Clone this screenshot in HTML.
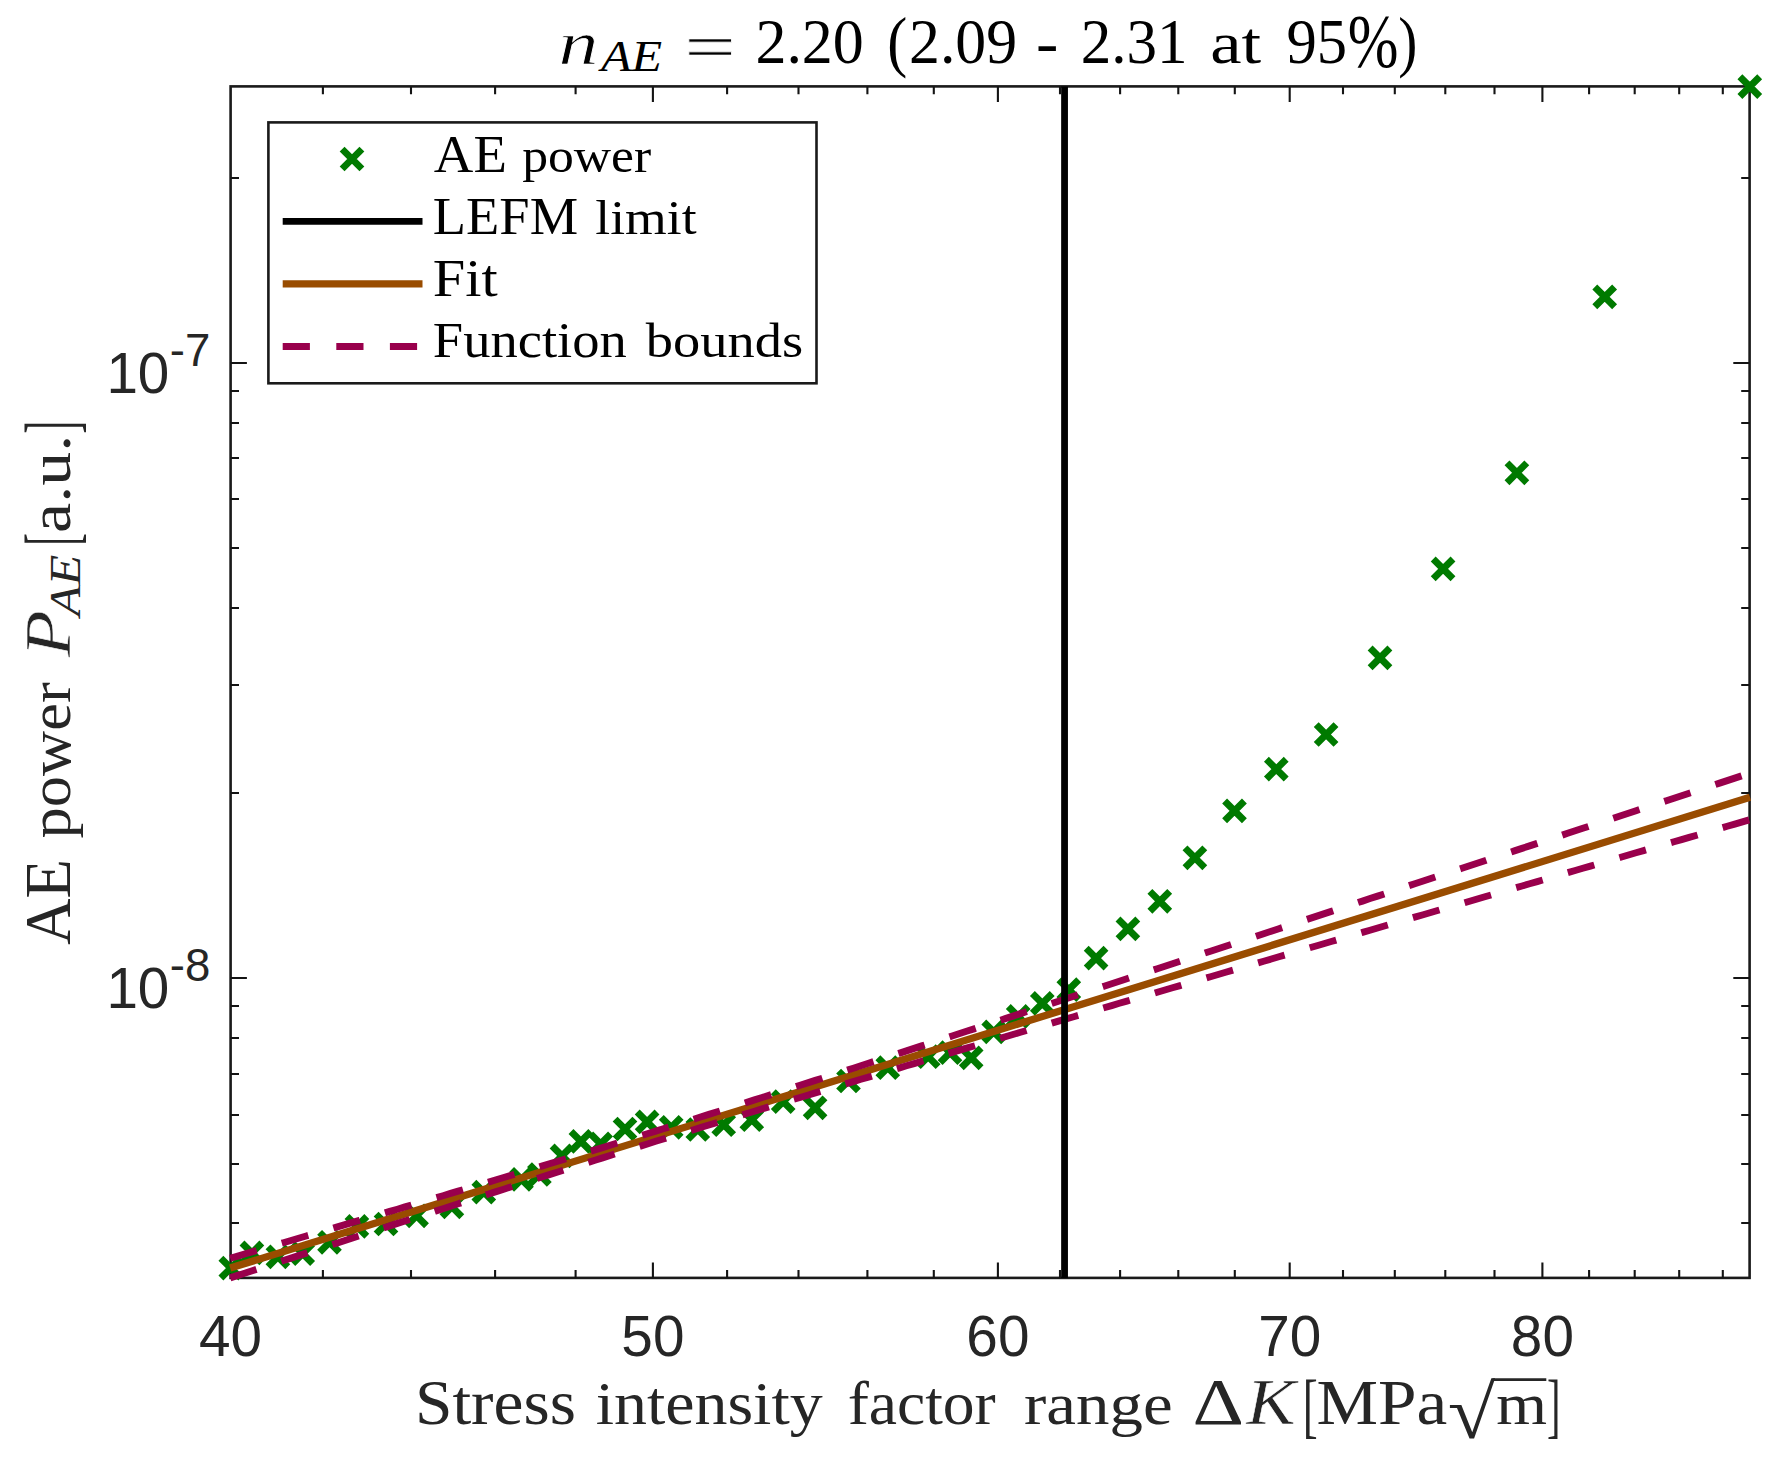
<!DOCTYPE html>
<html><head><meta charset="utf-8"><title>AE power vs stress intensity factor range</title>
<style>html,body{margin:0;padding:0;background:#fff}svg{display:block}</style></head>
<body>
<svg width="1782" height="1466" viewBox="0 0 1782 1466">
<rect width="1782" height="1466" fill="#fff"/>
<rect x="230.6" y="86.4" width="1519.0" height="1191.5" fill="none" stroke="#1a1a1a" stroke-width="2.6"/>
<g stroke="#141414" stroke-width="2.1" fill="none" stroke-linecap="butt">
<path d="M322.9 1277.9v-7.9M322.9 86.4v7.9M411.0 1277.9v-7.9M411.0 86.4v7.9M495.1 1277.9v-7.9M495.1 86.4v7.9M575.6 1277.9v-7.9M575.6 86.4v7.9M652.9 1277.9v-15.5M652.9 86.4v15.5M727.1 1277.9v-7.9M727.1 86.4v7.9M798.5 1277.9v-7.9M798.5 86.4v7.9M867.4 1277.9v-7.9M867.4 86.4v7.9M933.8 1277.9v-7.9M933.8 86.4v7.9M997.9 1277.9v-15.5M997.9 86.4v15.5M1060.0 1277.9v-7.9M1060.0 86.4v7.9M1120.1 1277.9v-7.9M1120.1 86.4v7.9M1178.3 1277.9v-7.9M1178.3 86.4v7.9M1234.8 1277.9v-7.9M1234.8 86.4v7.9M1289.7 1277.9v-15.5M1289.7 86.4v15.5M1343.0 1277.9v-7.9M1343.0 86.4v7.9M1394.8 1277.9v-7.9M1394.8 86.4v7.9M1445.3 1277.9v-7.9M1445.3 86.4v7.9M1494.5 1277.9v-7.9M1494.5 86.4v7.9M1542.4 1277.9v-15.5M1542.4 86.4v15.5M1589.1 1277.9v-7.9M1589.1 86.4v7.9M1634.7 1277.9v-7.9M1634.7 86.4v7.9M1679.2 1277.9v-7.9M1679.2 86.4v7.9M1722.8 1277.9v-7.9M1722.8 86.4v7.9M230.6 1223.0h8.4M1749.6 1223.0h-8.4M230.6 1164.0h8.4M1749.6 1164.0h-8.4M230.6 1115.0h8.4M1749.6 1115.0h-8.4M230.6 1074.0h8.4M1749.6 1074.0h-8.4M230.6 1038.0h8.4M1749.6 1038.0h-8.4M230.6 1006.0h8.4M1749.6 1006.0h-8.4M230.6 978.0h16.3M1749.6 978.0h-16.3M230.6 793.0h8.4M1749.6 793.0h-8.4M230.6 685.0h8.4M1749.6 685.0h-8.4M230.6 608.0h8.4M1749.6 608.0h-8.4M230.6 548.0h8.4M1749.6 548.0h-8.4M230.6 499.0h8.4M1749.6 499.0h-8.4M230.6 458.0h8.4M1749.6 458.0h-8.4M230.6 423.0h8.4M1749.6 423.0h-8.4M230.6 391.0h8.4M1749.6 391.0h-8.4M230.6 363.0h16.3M1749.6 363.0h-16.3M230.6 178.0h8.4M1749.6 178.0h-8.4"/>
</g>
<g font-family="'Liberation Sans', sans-serif" font-size="56.7" fill="#262626" text-anchor="middle">
<text x="230.6" y="1356">40</text>
<text x="652.9" y="1356">50</text>
<text x="997.9" y="1356">60</text>
<text x="1289.7" y="1356">70</text>
<text x="1542.4" y="1356">80</text>
</g>
<g font-family="'Liberation Sans', sans-serif" fill="#262626">
<text x="106.4" y="392.9" font-size="56.6">10</text><text x="169.8" y="366.0" font-size="45.6">-7</text>
<text x="106.4" y="1008.3" font-size="56.6">10</text><text x="169.8" y="981.4" font-size="45.6">-8</text>
</g>
<path d="M220.9 1258.2l19.8 19.8M220.9 1278.0l19.8 -19.8M242.0 1243.0l19.8 19.8M242.0 1262.8l19.8 -19.8M268.0 1246.9l19.8 19.8M268.0 1266.7l19.8 -19.8M292.8 1243.7l19.8 19.8M292.8 1263.5l19.8 -19.8M319.6 1232.4l19.8 19.8M319.6 1252.2l19.8 -19.8M347.0 1216.5l19.8 19.8M347.0 1236.3l19.8 -19.8M376.1 1214.1l19.8 19.8M376.1 1233.9l19.8 -19.8M406.7 1205.9l19.8 19.8M406.7 1225.7l19.8 -19.8M442.0 1196.9l19.8 19.8M442.0 1216.7l19.8 -19.8M473.9 1182.2l19.8 19.8M473.9 1202.0l19.8 -19.8M511.6 1169.5l19.8 19.8M511.6 1189.3l19.8 -19.8M529.5 1164.6l19.8 19.8M529.5 1184.4l19.8 -19.8M552.1 1146.0l19.8 19.8M552.1 1165.8l19.8 -19.8M571.0 1131.5l19.8 19.8M571.0 1151.3l19.8 -19.8M590.7 1134.0l19.8 19.8M590.7 1153.8l19.8 -19.8M615.1 1119.1l19.8 19.8M615.1 1138.9l19.8 -19.8M637.2 1112.0l19.8 19.8M637.2 1131.8l19.8 -19.8M661.3 1117.4l19.8 19.8M661.3 1137.2l19.8 -19.8M687.9 1119.6l19.8 19.8M687.9 1139.4l19.8 -19.8M713.8 1114.8l19.8 19.8M713.8 1134.6l19.8 -19.8M741.9 1109.8l19.8 19.8M741.9 1129.6l19.8 -19.8M773.3 1091.7l19.8 19.8M773.3 1111.5l19.8 -19.8M805.2 1097.9l19.8 19.8M805.2 1117.7l19.8 -19.8M838.6 1071.1l19.8 19.8M838.6 1090.9l19.8 -19.8M877.9 1057.8l19.8 19.8M877.9 1077.6l19.8 -19.8M918.3 1046.8l19.8 19.8M918.3 1066.6l19.8 -19.8M940.1 1042.8l19.8 19.8M940.1 1062.6l19.8 -19.8M961.3 1048.0l19.8 19.8M961.3 1067.8l19.8 -19.8M983.8 1022.0l19.8 19.8M983.8 1041.8l19.8 -19.8M1008.3 1006.5l19.8 19.8M1008.3 1026.3l19.8 -19.8M1032.4 993.5l19.8 19.8M1032.4 1013.3l19.8 -19.8M1058.9 979.7l19.8 19.8M1058.9 999.5l19.8 -19.8M1086.2 948.2l19.8 19.8M1086.2 968.0l19.8 -19.8M1118.0 919.0l19.8 19.8M1118.0 938.8l19.8 -19.8M1149.9 891.4l19.8 19.8M1149.9 911.2l19.8 -19.8M1185.0 847.9l19.8 19.8M1185.0 867.7l19.8 -19.8M1224.6 801.0l19.8 19.8M1224.6 820.8l19.8 -19.8M1266.4 759.2l19.8 19.8M1266.4 779.0l19.8 -19.8M1316.2 724.6l19.8 19.8M1316.2 744.4l19.8 -19.8M1370.1 648.0l19.8 19.8M1370.1 667.8l19.8 -19.8M1433.2 559.0l19.8 19.8M1433.2 578.8l19.8 -19.8M1507.0 462.9l19.8 19.8M1507.0 482.7l19.8 -19.8M1594.8 287.0l19.8 19.8M1594.8 306.8l19.8 -19.8M1739.9 76.7l19.8 19.8M1739.9 96.5l19.8 -19.8" stroke="#007A00" stroke-width="6.9" fill="none"/>
<line x1="230.2" y1="1268.1" x2="1750.0" y2="797.2" stroke="#994C00" stroke-width="7.3"/>
<g stroke="#99004C" stroke-width="6.9" fill="none" stroke-dasharray="27.6 26.16">
<polyline points="230.2 1258.3 237.8 1256.1 245.4 1253.8 253.0 1251.6 260.6 1249.4 268.2 1247.2 275.8 1244.9 283.4 1242.7 291.0 1240.5 298.6 1238.2 306.2 1236.0 313.8 1233.8 321.4 1231.6 329.0 1229.3 336.6 1227.1 344.2 1224.9 351.8 1222.6 359.4 1220.4 367.0 1218.1 374.6 1215.9 382.2 1213.7 389.8 1211.4 397.4 1209.2 405.0 1206.9 412.6 1204.7 420.2 1202.4 427.8 1200.2 435.4 1197.9 443.0 1195.7 450.6 1193.4 458.2 1191.1 465.8 1188.9 473.4 1186.6 481.0 1184.3 488.6 1182.1 496.2 1179.8 503.8 1177.5 511.4 1175.2 519.0 1173.0 526.6 1170.7 534.2 1168.4 541.8 1166.1 549.4 1163.8 557.0 1161.5 564.6 1159.2 572.2 1156.9 579.8 1154.5 587.4 1152.2 595.0 1149.9 602.6 1147.6 610.1 1145.2 617.7 1142.9 625.3 1140.6 632.9 1138.2 640.5 1135.9 648.1 1133.5 655.7 1131.1 663.3 1128.8 670.9 1126.4 678.5 1124.0 686.1 1121.6 693.7 1119.2 701.3 1116.8 708.9 1114.4 716.5 1112.0 724.1 1109.6 731.7 1107.2 739.3 1104.8 746.9 1102.4 754.5 1099.9 762.1 1097.5 769.7 1095.1 777.3 1092.7 784.9 1090.2 792.5 1087.8 800.1 1085.3 807.7 1082.9 815.3 1080.4 822.9 1078.0 830.5 1075.5 838.1 1073.1 845.7 1070.6 853.3 1068.2 860.9 1065.7 868.5 1063.2 876.1 1060.8 883.7 1058.3 891.3 1055.8 898.9 1053.4 906.5 1050.9 914.1 1048.4 921.7 1045.9 929.3 1043.5 936.9 1041.0 944.5 1038.5 952.1 1036.0 959.7 1033.5 967.3 1031.0 974.9 1028.6 982.5 1026.1 990.1 1023.6 997.7 1021.1 1005.3 1018.6 1012.9 1016.1 1020.5 1013.6 1028.1 1011.1 1035.7 1008.7 1043.3 1006.2 1050.9 1003.7 1058.5 1001.2 1066.1 998.7 1073.7 996.2 1081.3 993.7 1088.9 991.2 1096.5 988.7 1104.1 986.2 1111.7 983.7 1119.3 981.2 1126.9 978.7 1134.5 976.2 1142.1 973.7 1149.7 971.2 1157.3 968.7 1164.9 966.2 1172.5 963.7 1180.1 961.2 1187.7 958.7 1195.3 956.2 1202.9 953.7 1210.5 951.2 1218.1 948.7 1225.7 946.2 1233.3 943.7 1240.9 941.2 1248.5 938.7 1256.1 936.2 1263.7 933.7 1271.3 931.2 1278.9 928.7 1286.5 926.2 1294.1 923.6 1301.7 921.1 1309.3 918.6 1316.9 916.1 1324.5 913.6 1332.1 911.1 1339.7 908.6 1347.3 906.1 1354.9 903.6 1362.5 901.1 1370.0 898.6 1377.6 896.1 1385.2 893.6 1392.8 891.1 1400.4 888.6 1408.0 886.0 1415.6 883.5 1423.2 881.0 1430.8 878.5 1438.4 876.0 1446.0 873.5 1453.6 871.0 1461.2 868.5 1468.8 866.0 1476.4 863.5 1484.0 861.0 1491.6 858.4 1499.2 855.9 1506.8 853.4 1514.4 850.9 1522.0 848.4 1529.6 845.9 1537.2 843.4 1544.8 840.9 1552.4 838.4 1560.0 835.9 1567.6 833.3 1575.2 830.8 1582.8 828.3 1590.4 825.8 1598.0 823.3 1605.6 820.8 1613.2 818.3 1620.8 815.8 1628.4 813.3 1636.0 810.7 1643.6 808.2 1651.2 805.7 1658.8 803.2 1666.4 800.7 1674.0 798.2 1681.6 795.7 1689.2 793.2 1696.8 790.7 1704.4 788.1 1712.0 785.6 1719.6 783.1 1727.2 780.6 1734.8 778.1 1742.4 775.6 1750.0 773.1"/>
<polyline points="230.2 1277.9 237.8 1275.4 245.4 1273.0 253.0 1270.5 260.6 1268.0 268.2 1265.5 275.8 1263.0 283.4 1260.5 291.0 1258.1 298.6 1255.6 306.2 1253.1 313.8 1250.6 321.4 1248.1 329.0 1245.7 336.6 1243.2 344.2 1240.7 351.8 1238.2 359.4 1235.8 367.0 1233.3 374.6 1230.8 382.2 1228.4 389.8 1225.9 397.4 1223.4 405.0 1221.0 412.6 1218.5 420.2 1216.0 427.8 1213.6 435.4 1211.1 443.0 1208.7 450.6 1206.2 458.2 1203.8 465.8 1201.3 473.4 1198.9 481.0 1196.5 488.6 1194.0 496.2 1191.6 503.8 1189.2 511.4 1186.7 519.0 1184.3 526.6 1181.9 534.2 1179.5 541.8 1177.0 549.4 1174.6 557.0 1172.2 564.6 1169.8 572.2 1167.4 579.8 1165.0 587.4 1162.7 595.0 1160.3 602.6 1157.9 610.1 1155.5 617.7 1153.1 625.3 1150.8 632.9 1148.4 640.5 1146.1 648.1 1143.7 655.7 1141.3 663.3 1139.0 670.9 1136.7 678.5 1134.3 686.1 1132.0 693.7 1129.7 701.3 1127.3 708.9 1125.0 716.5 1122.7 724.1 1120.4 731.7 1118.1 739.3 1115.8 746.9 1113.5 754.5 1111.2 762.1 1108.9 769.7 1106.6 777.3 1104.3 784.9 1102.0 792.5 1099.7 800.1 1097.5 807.7 1095.2 815.3 1092.9 822.9 1090.6 830.5 1088.4 838.1 1086.1 845.7 1083.9 853.3 1081.6 860.9 1079.3 868.5 1077.1 876.1 1074.8 883.7 1072.6 891.3 1070.3 898.9 1068.1 906.5 1065.8 914.1 1063.6 921.7 1061.3 929.3 1059.1 936.9 1056.9 944.5 1054.6 952.1 1052.4 959.7 1050.1 967.3 1047.9 974.9 1045.7 982.5 1043.4 990.1 1041.2 997.7 1039.0 1005.3 1036.7 1012.9 1034.5 1020.5 1032.3 1028.1 1030.0 1035.7 1027.8 1043.3 1025.6 1050.9 1023.4 1058.5 1021.1 1066.1 1018.9 1073.7 1016.7 1081.3 1014.5 1088.9 1012.2 1096.5 1010.0 1104.1 1007.8 1111.7 1005.6 1119.3 1003.3 1126.9 1001.1 1134.5 998.9 1142.1 996.7 1149.7 994.5 1157.3 992.2 1164.9 990.0 1172.5 987.8 1180.1 985.6 1187.7 983.4 1195.3 981.1 1202.9 978.9 1210.5 976.7 1218.1 974.5 1225.7 972.3 1233.3 970.1 1240.9 967.8 1248.5 965.6 1256.1 963.4 1263.7 961.2 1271.3 959.0 1278.9 956.8 1286.5 954.6 1294.1 952.3 1301.7 950.1 1309.3 947.9 1316.9 945.7 1324.5 943.5 1332.1 941.3 1339.7 939.1 1347.3 936.8 1354.9 934.6 1362.5 932.4 1370.0 930.2 1377.6 928.0 1385.2 925.8 1392.8 923.6 1400.4 921.4 1408.0 919.1 1415.6 916.9 1423.2 914.7 1430.8 912.5 1438.4 910.3 1446.0 908.1 1453.6 905.9 1461.2 903.7 1468.8 901.5 1476.4 899.2 1484.0 897.0 1491.6 894.8 1499.2 892.6 1506.8 890.4 1514.4 888.2 1522.0 886.0 1529.6 883.8 1537.2 881.6 1544.8 879.4 1552.4 877.1 1560.0 874.9 1567.6 872.7 1575.2 870.5 1582.8 868.3 1590.4 866.1 1598.0 863.9 1605.6 861.7 1613.2 859.5 1620.8 857.3 1628.4 855.0 1636.0 852.8 1643.6 850.6 1651.2 848.4 1658.8 846.2 1666.4 844.0 1674.0 841.8 1681.6 839.6 1689.2 837.4 1696.8 835.2 1704.4 833.0 1712.0 830.8 1719.6 828.5 1727.2 826.3 1734.8 824.1 1742.4 821.9 1750.0 819.7"/>
</g>
<line x1="1064.55" y1="86.4" x2="1064.55" y2="1277.9" stroke="#000" stroke-width="6.8"/>
<rect x="268.4" y="122.4" width="548.1" height="260.9" fill="#fff" stroke="#1a1a1a" stroke-width="2.6"/>
<path d="M342.1 149.1l19.8 19.8M342.1 168.9l19.8 -19.8" stroke="#007A00" stroke-width="6.9" fill="none"/>
<line x1="282.7" y1="221.4" x2="422.5" y2="221.4" stroke="#000" stroke-width="6.8"/>
<line x1="282.7" y1="283.9" x2="422.5" y2="283.9" stroke="#994C00" stroke-width="7.4"/>
<line x1="282.7" y1="346.5" x2="422.5" y2="346.5" stroke="#99004C" stroke-width="7.0" stroke-dasharray="27.2 26.4"/>
<g>
<text transform="translate(558.45 63.90) scale(1.3755 1.0495)" font-family="'Liberation Serif', serif" font-size="58" font-style="italic" fill="#000" stroke="#fff" stroke-width="0.7">n</text>
<text transform="translate(600.88 71.40) scale(1.1137 1.0000)" font-family="'Liberation Serif', serif" font-size="45" font-style="italic" fill="#000">AE</text>
<text transform="translate(684.34 68.40) scale(1.4353 1.0000)" font-family="'Liberation Serif', serif" font-size="64" font-style="normal" fill="#000" stroke="#fff" stroke-width="0.6">=</text>
<text transform="translate(755.39 62.90) scale(0.9838 1.0000)" font-family="'Liberation Serif', serif" font-size="63" font-style="normal" fill="#000">2.20</text>
<text transform="translate(887.22 63.54) scale(0.9394 1.0414)" font-family="'Liberation Serif', serif" font-size="64" font-style="normal" fill="#000">(</text>
<text transform="translate(909.00 62.90) scale(0.9810 1.0000)" font-family="'Liberation Serif', serif" font-size="63" font-style="normal" fill="#000">2.09</text>
<text transform="translate(1036.08 63.90) scale(1.0485 1.0000)" font-family="'Liberation Serif', serif" font-size="64" font-style="normal" fill="#000">-</text>
<text transform="translate(1080.73 62.90) scale(0.9696 1.0000)" font-family="'Liberation Serif', serif" font-size="63" font-style="normal" fill="#000">2.31</text>
<text transform="translate(1210.15 62.90) scale(1.1756 1.0000)" font-family="'Liberation Serif', serif" font-size="60" font-style="normal" fill="#000">at</text>
<text transform="translate(1286.38 62.90) scale(0.9624 1.0000)" font-family="'Liberation Serif', serif" font-size="63" font-style="normal" fill="#000">95</text>
<text transform="translate(1347.66 67.21) scale(0.9518 1.1862)" font-family="'Liberation Serif', serif" font-size="64" font-style="normal" fill="#000">%</text>
<text transform="translate(1398.21 63.54) scale(0.8970 1.0414)" font-family="'Liberation Serif', serif" font-size="64" font-style="normal" fill="#000">)</text>
<text transform="translate(414.92 1423.90) scale(1.0781 1.0000)" font-family="'Liberation Serif', serif" font-size="62.5" font-style="normal" fill="#262626">Stress</text>
<text transform="translate(595.64 1423.90) scale(1.0899 1.0000)" font-family="'Liberation Serif', serif" font-size="60.5" font-style="normal" fill="#262626">intensity</text>
<text transform="translate(847.66 1423.90) scale(1.0501 1.0000)" font-family="'Liberation Serif', serif" font-size="60.5" font-style="normal" fill="#262626">factor</text>
<text transform="translate(1024.10 1423.90) scale(1.1239 1.0000)" font-family="'Liberation Serif', serif" font-size="59.5" font-style="normal" fill="#262626">range</text>
<text transform="translate(1192.47 1423.90) scale(1.2133 1.0000)" font-family="'Liberation Serif', serif" font-size="66" font-style="normal" fill="#262626">Δ</text>
<text transform="translate(1246.44 1423.90) scale(1.1158 1.0000)" font-family="'Liberation Serif', serif" font-size="66" font-style="italic" fill="#262626" stroke="#fff" stroke-width="0.5">K</text>
<text transform="translate(1302.67 1429.38) scale(0.7018 1.1321)" font-family="'Liberation Serif', serif" font-size="64" font-style="normal" fill="#262626">[</text>
<text transform="translate(1316.51 1423.90) scale(1.0816 1.0000)" font-family="'Liberation Serif', serif" font-size="64" font-style="normal" fill="#262626">MPa</text>
<text transform="translate(1447.67 1437.91) scale(1.3522 1.1804)" font-family="'Liberation Serif', serif" font-size="64" font-style="normal" fill="#262626">√</text>
<text transform="translate(1496.23 1423.90) scale(1.0977 1.0000)" font-family="'Liberation Serif', serif" font-size="59.5" font-style="normal" fill="#262626">m</text>
<text transform="translate(1546.98 1429.38) scale(0.6316 1.1321)" font-family="'Liberation Serif', serif" font-size="64" font-style="normal" fill="#262626">]</text>
<text transform="translate(433.87 171.70) scale(1.0536 1.0000)" font-family="'Liberation Serif', serif" font-size="52" font-style="normal" fill="#000">AE</text>
<text transform="translate(522.18 171.70) scale(1.0868 1.0000)" font-family="'Liberation Serif', serif" font-size="47.5" font-style="normal" fill="#000">power</text>
<text transform="translate(432.83 233.60) scale(1.0475 1.0000)" font-family="'Liberation Serif', serif" font-size="52" font-style="normal" fill="#000">LEFM</text>
<text transform="translate(595.29 233.60) scale(1.1058 1.0000)" font-family="'Liberation Serif', serif" font-size="48.5" font-style="normal" fill="#000">limit</text>
<text transform="translate(432.72 295.90) scale(1.1232 1.0000)" font-family="'Liberation Serif', serif" font-size="52" font-style="normal" fill="#000">Fit</text>
<text transform="translate(432.81 357.20) scale(1.0600 1.0000)" font-family="'Liberation Serif', serif" font-size="51.5" font-style="normal" fill="#000">Function</text>
<text transform="translate(645.80 357.20) scale(1.1226 1.0000)" font-family="'Liberation Serif', serif" font-size="48.5" font-style="normal" fill="#000">bounds</text>
</g>
<g transform="translate(69.9 0) rotate(-90)">
<text transform="translate(-945.03 0.00) scale(0.9774 1.0000)" font-family="'Liberation Serif', serif" font-size="66" font-style="normal" fill="#262626">AE</text>
<text transform="translate(-838.45 0.00) scale(1.0506 1.0000)" font-family="'Liberation Serif', serif" font-size="59.5" font-style="normal" fill="#262626">power</text>
<text transform="translate(-657.01 0.00) scale(1.1590 1.0000)" font-family="'Liberation Serif', serif" font-size="66" font-style="italic" fill="#262626" stroke="#fff" stroke-width="0.6">P</text>
<text transform="translate(-616.20 10.30) scale(1.1189 1.0000)" font-family="'Liberation Serif', serif" font-size="45" font-style="italic" fill="#262626">AE</text>
<text transform="translate(-545.53 5.87) scale(0.5754 1.1679)" font-family="'Liberation Serif', serif" font-size="64" font-style="normal" fill="#262626">[</text>
<text transform="translate(-532.88 0.00) scale(1.1413 1.0000)" font-family="'Liberation Serif', serif" font-size="59.5" font-style="normal" fill="#262626">a.u.</text>
<text transform="translate(-433.61 5.87) scale(0.5825 1.1679)" font-family="'Liberation Serif', serif" font-size="64" font-style="normal" fill="#262626">]</text>
</g>
<line x1="1492.5" y1="1379.6" x2="1546.3" y2="1379.6" stroke="#262626" stroke-width="2.6"/>
</svg>
</body></html>
